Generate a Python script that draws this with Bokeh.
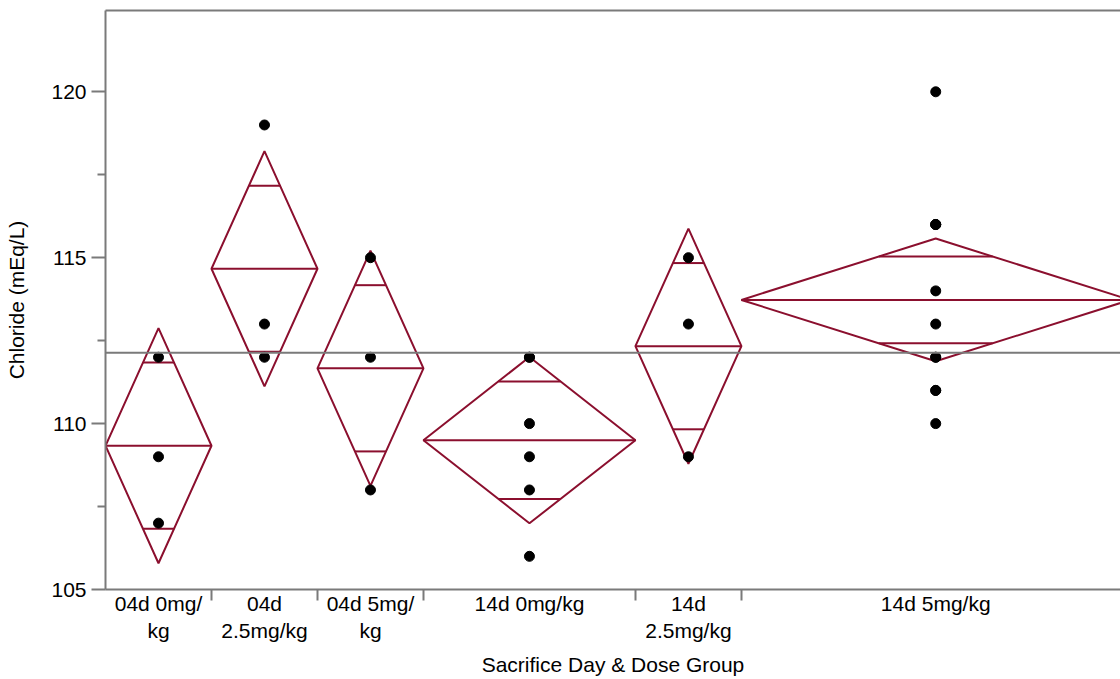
import numpy as np
from bokeh.plotting import figure
from bokeh.models import ColumnDataSource, Range1d, FixedTicker, LinearAxis, Span
from bokeh.embed import file_html
from bokeh.resources import INLINE

# ---- data ----
groups = ["04d 0mg/kg", "04d 2.5mg/kg", "04d 5mg/kg", "14d 0mg/kg", "14d 2.5mg/kg", "14d 5mg/kg"]
tick_labels = ["04d 0mg/\nkg", "04d\n2.5mg/kg", "04d 5mg/\nkg", "14d 0mg/kg", "14d\n2.5mg/kg", "14d 5mg/kg"]
chloride_04d_0 = [112, 109, 107]
chloride_04d_25 = [119, 113, 112]
chloride_04d_5 = [115, 112, 108]
chloride_14d_0 = [112, 112, 110, 109, 108, 106]
chloride_14d_25 = [115, 113, 109]
chloride_14d_5 = [120, 116, 116, 116, 114, 113, 112, 112, 111, 111, 110]
T_CRIT = 2.0687  # t(0.975, df=23)

y_ticks = [105, 110, 115, 120]
y_minor = [107.5, 112.5, 117.5]

# ---- derived ----
data = [chloride_04d_0, chloride_04d_25, chloride_04d_5,
        chloride_14d_0, chloride_14d_25, chloride_14d_5]
ns = np.array([len(g) for g in data], dtype=float)
means = np.array([np.mean(g) for g in data])
starts = np.concatenate([[0.0], np.cumsum(ns)[:-1]])
ends = starts + ns
centers = starts + ns / 2
sse = sum(((np.array(g) - np.mean(g)) ** 2).sum() for g in data)
dfe = ns.sum() - len(ns)
rmse = np.sqrt(sse / dfe)
half = T_CRIT * rmse / np.sqrt(ns)
all_vals = np.concatenate([np.array(g, dtype=float) for g in data])
grand_mean = all_vals.mean()

DIAMOND = "#8b0f2e"
GRAY = "#7a7a7a"
FONT = "Liberation Sans"
FS = "21px"

p = figure(width=1120, height=679, output_backend="svg", toolbar_location=None,
           x_range=Range1d(0, 28.73), y_range=Range1d(105, 122.45),
           min_border_left=105, min_border_right=0, min_border_top=10, min_border_bottom=90,
           outline_line_color=None, background_fill_color="white")
p.grid.visible = False

# diamonds
dsrc = ColumnDataSource(dict(
    xs=[[s, c, e, c, s] for s, c, e in zip(starts, centers, ends)],
    ys=[[m, m + h, m, m - h, m] for m, h in zip(means, half)],
))
p.patches("xs", "ys", source=dsrc, fill_color=None, line_color=DIAMOND, line_width=2)

# mean lines
p.segment(x0=starts, x1=ends, y0=means, y1=means, line_color=DIAMOND, line_width=2)

# overlap marks
k = 1 / np.sqrt(2)
hw = ns / 2 * (1 - k)
for sgn in (1, -1):
    p.segment(x0=centers - hw, x1=centers + hw, y0=means + sgn * half * k,
              y1=means + sgn * half * k, line_color=DIAMOND, line_width=2)

# grand mean
p.add_layout(Span(location=grand_mean, dimension="width", line_color=GRAY, line_width=2))

# points
px = np.concatenate([[c] * len(g) for c, g in zip(centers, data)])
p.scatter(px, all_vals, size=10, color="black")

# axes
xa = p.xaxis[0]
xa.ticker = FixedTicker(ticks=list(centers), minor_ticks=list(starts[1:]) + [ends[-1]])
xa.major_label_overrides = {float(c): t for c, t in zip(centers, tick_labels)}
xa.major_tick_out = 0
xa.major_tick_in = 0
xa.minor_tick_out = 11
xa.minor_tick_in = 0
xa.minor_tick_line_color = GRAY
xa.minor_tick_line_width = 2
xa.axis_line_color = GRAY
xa.axis_line_width = 2
xa.major_label_standoff = -9
xa.major_label_text_font = FONT
xa.major_label_text_font_size = FS
xa.major_label_text_color = "black"
xa.axis_label = "Sacrifice Day & Dose Group"
xa.axis_label_text_font = FONT
xa.axis_label_text_font_size = FS
xa.axis_label_text_font_style = "normal"
xa.axis_label_text_color = "black"
xa.axis_label_standoff = 8

ya = p.yaxis[0]
ya.ticker = FixedTicker(ticks=y_ticks, minor_ticks=y_minor)
ya.major_tick_out = 14
ya.major_tick_in = 0
ya.minor_tick_out = 8
ya.minor_tick_in = 0
ya.major_tick_line_color = GRAY
ya.major_tick_line_width = 2
ya.minor_tick_line_color = GRAY
ya.minor_tick_line_width = 2
ya.axis_line_color = GRAY
ya.axis_line_width = 2
ya.major_label_standoff = 5
ya.major_label_text_font = FONT
ya.major_label_text_font_size = FS
ya.major_label_text_color = "black"
ya.axis_label = "Chloride (mEq/L)"
ya.axis_label_text_font = FONT
ya.axis_label_text_font_size = FS
ya.axis_label_text_font_style = "normal"
ya.axis_label_text_color = "black"
ya.axis_label_standoff = 20

top = LinearAxis(ticker=FixedTicker(ticks=[]), major_label_text_font_size="0px",
                 axis_line_color=GRAY, axis_line_width=2,
                 major_tick_line_color=None, minor_tick_line_color=None,
                 major_tick_out=0, minor_tick_out=0, major_label_standoff=0)
p.add_layout(top, "above")

open("out.html", "w").write(file_html(p, INLINE))
